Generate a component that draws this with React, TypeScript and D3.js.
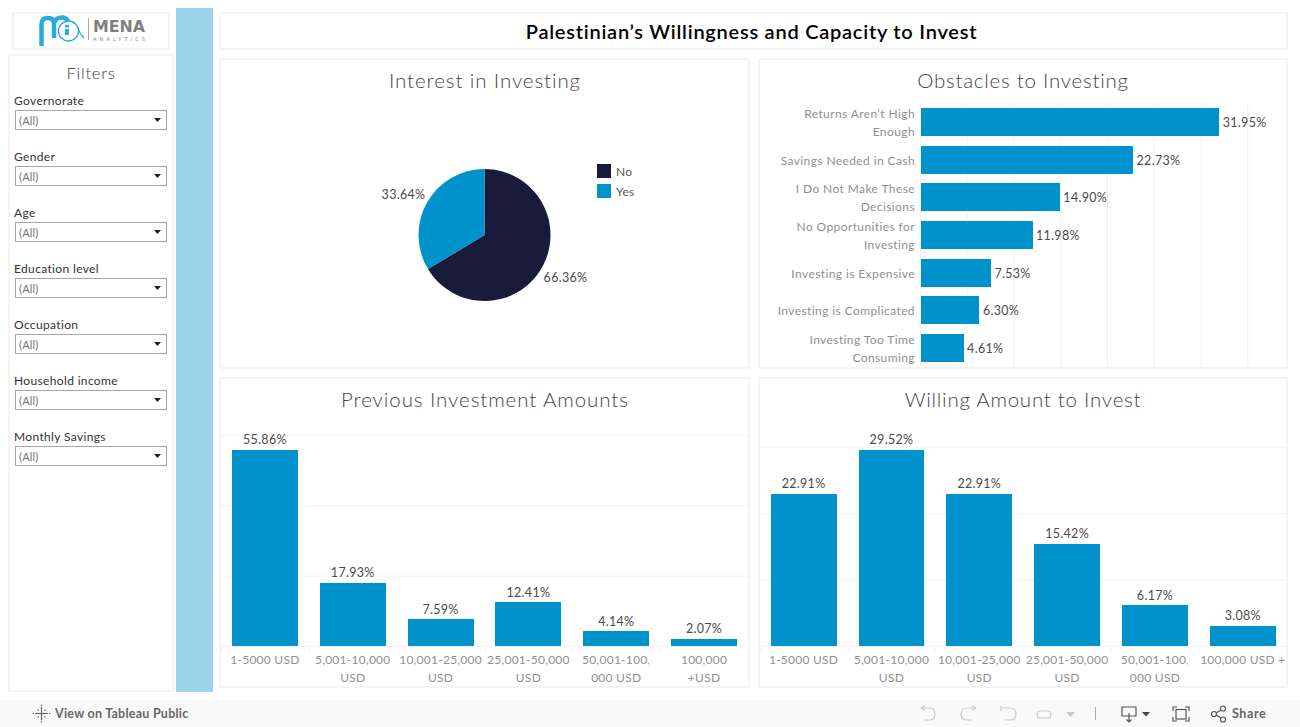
import React from "react";
import * as d3 from "d3";

const filterNames = ["Governorate", "Gender", "Age", "Education level", "Occupation", "Household income", "Monthly Savings"];
const pieLabels = ["No", "Yes"];
const pieValues = [66.36, 33.64];
const obstacleLabels = [
  ["Returns Aren\u2019t High", "Enough"],
  ["Savings Needed in Cash"],
  ["I Do Not Make These", "Decisions"],
  ["No Opportunities for", "Investing"],
  ["Investing is Expensive"],
  ["Investing is Complicated"],
  ["Investing Too Time", "Consuming"],
];
const obstacleValues = [31.95, 22.73, 14.9, 11.98, 7.53, 6.3, 4.61];
const obstacleTicks = [0, 5, 10, 15, 20, 25, 30, 35];
const previousLabels = [
  ["1-5000 USD"],
  ["5,001-10,000", "USD"],
  ["10,001-25,000", "USD"],
  ["25,001-50,000", "USD"],
  ["50,001-100,", "000 USD"],
  ["100,000", "+USD"],
];
const previousValues = [55.86, 17.93, 7.59, 12.41, 4.14, 2.07];
const previousTicks = [0, 20, 40, 60];
const willingLabels = [
  ["1-5000 USD"],
  ["5,001-10,000", "USD"],
  ["10,001-25,000", "USD"],
  ["25,001-50,000", "USD"],
  ["50,001-100,", "000 USD"],
  ["100,000 USD +"],
];
const willingValues = [22.91, 29.52, 22.91, 15.42, 6.17, 3.08];
const willingTicks = [0, 10, 20, 30];

const BLUE = "#0092cb";
const NAVY = "#181c3a";
const FONT = "Lato, 'Open Sans', sans-serif";
const BORDER = "#f4f4f4";
const AXIS = "#8f8f8f";
const pct = (v: number) => v.toFixed(2) + "%";

function Panel({ x, y, w, h }: { x: number; y: number; w: number; h: number }) {
  return <rect x={x} y={y} width={w} height={h} fill="#fff" stroke={BORDER} strokeWidth={2} />;
}

function Title({ x, y, text, spacing }: { x: number; y: number; text: string; spacing: number }) {
  return (
    <text x={x} y={y} textAnchor="middle" fontFamily={FONT} fontSize={20.5} fill="#454545" letterSpacing={spacing} fontWeight={300}>
      {text}
    </text>
  );
}

function ColumnChart({ id, left, labels, values, ticks, max, top, right }: {
  id: string; left: number; labels: string[][]; values: number[]; ticks: number[]; max: number; top: number; right: number;
}) {
  const baseline = 646;
  const x = d3.scaleBand<number>().domain(values.map((_, i) => i)).range([left, right]).paddingInner(0.25).paddingOuter(0.125);
  const y = d3.scaleLinear().domain([0, max]).range([baseline, top]);
  return (
    <g fontFamily={FONT}>
      {ticks.map((t) => (
        <line key={t} x1={left} x2={right} y1={y(t) + 0.5} y2={y(t) + 0.5} stroke="#f1f1f1" strokeWidth={1} />
      ))}
      {values.map((_, i) => (
        <line key={i} x1={Math.round(left + x.step() * i) + 0.5} x2={Math.round(left + x.step() * i) + 0.5} y1={baseline} y2={baseline + 5} stroke="#f1f1f1" />
      ))}
      {values.map((v, i) => {
        const cut = labels[i][0].endsWith(",");
        return (
          <g key={i}>
            <rect x={x(i)} y={y(v)} width={x.bandwidth()} height={baseline - y(v)} fill={BLUE} shapeRendering="crispEdges" />
            <text x={x(i)! + x.bandwidth() / 2} y={y(v) - 5.5} textAnchor="middle" fontSize={12.5} fill="#4a4a4a" letterSpacing={0.3}>{pct(v)}</text>
            <clipPath id={`${id}-${i}`}>
              <rect x={left + x.step() * i} y={650} width={cut ? x(i)! + x.bandwidth() - (left + x.step() * i) : x.step()} height={18} />
              <rect x={left + x.step() * i} y={668} width={x.step()} height={18} />
            </clipPath>
            <g clipPath={`url(#${id}-${i})`}>
              {labels[i].map((line, j) => (
                <text key={j} x={x(i)! + x.bandwidth() / 2} y={664 + j * 18} textAnchor="middle" fontSize={12} fill={AXIS} letterSpacing={0.25}>{line}</text>
              ))}
            </g>
          </g>
        );
      })}
    </g>
  );
}

function Obstacles() {
  const x = d3.scaleLinear().domain([0, 35]).range([920.5, 1247.8]);
  const y = d3.scaleBand<number>().domain(obstacleValues.map((_, i) => i)).range([103.3, 367]).paddingInner(0.257).paddingOuter(0.1285);
  return (
    <g fontFamily={FONT}>
      {obstacleTicks.map((t) => (
        <line key={t} x1={x(t)} x2={x(t)} y1={104} y2={367} stroke="#f1f1f1" />
      ))}
      {obstacleValues.map((v, i) => {
        const cy = y(i)! + y.bandwidth() / 2;
        const lines = obstacleLabels[i];
        return (
          <g key={i}>
            <rect x={x(0)} y={y(i)} width={x(v) - x(0)} height={y.bandwidth()} fill={BLUE} shapeRendering="crispEdges" />
            <text x={x(v) + 3.5} y={cy + 5} fontSize={12.5} fill="#4a4a4a" letterSpacing={0.3}>{pct(v)}</text>
            {lines.map((line, j) => (
              <text key={j} x={915} y={cy + 5 + (j - (lines.length - 1) / 2) * 18} textAnchor="end" fontSize={12} fill={AXIS} letterSpacing={0.4}>{line}</text>
            ))}
          </g>
        );
      })}
    </g>
  );
}

function Pie() {
  const pie = d3.pie<number>().sort(null)(pieValues);
  const arc = d3.arc<d3.PieArcDatum<number>>().innerRadius(0).outerRadius(66);
  return (
    <g fontFamily={FONT}>
      <g transform="translate(484.5,235)">
        {pie.map((p, i) => (
          <path key={i} d={arc(p)!} fill={i === 0 ? NAVY : BLUE} />
        ))}
      </g>
      <text x={565.5} y={282} textAnchor="middle" fontSize={12.5} fill="#4a4a4a" letterSpacing={0.3}>{pct(pieValues[0])}</text>
      <text x={403.5} y={199} textAnchor="middle" fontSize={12.5} fill="#4a4a4a" letterSpacing={0.3}>{pct(pieValues[1])}</text>
      {pieLabels.map((l, i) => (
        <g key={l}>
          <rect x={597} y={164 + i * 20} width={14} height={14} fill={i === 0 ? NAVY : BLUE} />
          <text x={616} y={176 + i * 20} fontSize={12} fill="#5a5a5a" letterSpacing={0.3}>{l}</text>
        </g>
      ))}
    </g>
  );
}

function Filters() {
  return (
    <g fontFamily={FONT}>
      <text x={91} y={79} textAnchor="middle" fontSize={16.5} fill="#3a3a3a" letterSpacing={0.8} fontWeight={300}>Filters</text>
      {filterNames.map((f, i) => (
        <g key={f} transform={`translate(0,${i * 56})`}>
          <text x={14} y={105} fontSize={12} fill="#333" letterSpacing={0.35}>{f}</text>
          <rect x={15.5} y={110.5} width={151} height={19} fill="#fff" stroke="#a6a6a6" />
          <text x={19} y={124.5} fontSize={11} fill="#707070" letterSpacing={0.2}>(All)</text>
          <path d="M154,118 h7 l-3.5,4 z" fill="#222" />
        </g>
      ))}
    </g>
  );
}

function Logo() {
  return (
    <g>
      <path d="M41.5,46 V24 Q41.5,18 48,18 Q54,18 54,24 V38 M54,23 Q56,17.5 62,17.5 Q66,17.5 68,21" fill="none" stroke="#29abe2" strokeWidth={4.5} />
      <circle cx={68.5} cy={31} r={10} fill="none" stroke="#29abe2" strokeWidth={1.3} />
      <path d="M78,27 Q79,33 84,38" fill="none" stroke="#29abe2" strokeWidth={1.3} />
      <rect x={65} y={29} width={4} height={6} fill="#29abe2" />
      <rect x={65} y={25} width={4} height={2.5} fill="#29abe2" />
      <line x1={88.5} y1={18} x2={88.5} y2={40} stroke="#aaa" />
      <text x={93} y={32} fontFamily="'DejaVu Sans', sans-serif" fontSize={16} fontWeight={700} fill="#808080" textLength={52} lengthAdjust="spacingAndGlyphs">MENA</text>
      <text x={93} y={40.5} fontFamily="'DejaVu Sans', sans-serif" fontSize={5} fill="#808080" textLength={52}>ANALYTICS</text>
    </g>
  );
}

function Footer() {
  const gray = "#c9c9c9";
  return (
    <g>
      <rect x={0} y={700} width={1300} height={27} fill="#f9f9f9" />
      <g stroke="#666" strokeWidth={1.2} fill="none">
        {d3.range(0, 8).map((i) => {
          const a = (i * Math.PI) / 4;
          const r1 = i % 2 ? 4 : 5;
          const r2 = i % 2 ? 6 : 9;
          return <line key={i} x1={41.5 + r1 * Math.cos(a)} y1={713.5 + r1 * Math.sin(a)} x2={41.5 + r2 * Math.cos(a)} y2={713.5 + r2 * Math.sin(a)} strokeDasharray="1.5 1" />;
        })}
        <line x1={36} x2={47} y1={713.5} y2={713.5} />
        <line x1={41.5} x2={41.5} y1={708} y2={719} />
      </g>
      <text x={55} y={718} fontFamily={FONT} fontSize={12.5} fontWeight={700} fill="#666" letterSpacing={0.25}>View on Tableau Public</text>
      <g fill="none" stroke={gray} strokeWidth={1.2}>
        <path d="M921,708 H930 Q935,708 935,714 Q935,720 930,720 H924" />
        <path d="M921,708 l4,-2 M921,708 l4,2" />
        <path d="M976,708 H967 Q961,708 961,714 Q961,720 967,720 H972" />
        <path d="M976,708 l-4,-2 M976,708 l-4,2" />
        <path d="M1001,706 v5 M1002,708 H1010 Q1016,708 1016,714 Q1016,720 1010,720 H1005" />
        <path d="M1040,711 H1048 Q1051,711 1051,714.5 Q1051,718 1048,718 H1040 Q1037,718 1037,714.5 Q1037,711 1040,711 Z" />
      </g>
      <path d="M1066,712 h9 l-4.5,5 z" fill={gray} />
      <line x1={1095.5} x2={1095.5} y1={707} y2={720} stroke="#aaa" />
      <g fill="none" stroke="#555" strokeWidth={1.2}>
        <path d="M1122,707 H1136 V716 H1122 Z M1129,713 V722 M1126.5,719.5 L1129,722 L1131.5,719.5" />
        <path d="M1173,711 v-4 h4 M1185,707 h4 v4 M1189,717 v4 h-4 M1177,721 h-4 v-4" />
        <rect x={1176} y={709.5} width={10} height={9.5} />
        <circle cx={1214} cy={714} r={2.5} />
        <circle cx={1223} cy={708.5} r={2.5} />
        <circle cx={1223} cy={719.5} r={2.5} />
        <path d="M1216,713 L1221,710 M1216,715 L1221,718" />
      </g>
      <path d="M1142,712 h8 l-4,4.5 z" fill="#444" />
      <text x={1232} y={718} fontFamily={FONT} fontSize={12.5} fontWeight={700} fill="#666" letterSpacing={0.6}>Share</text>
    </g>
  );
}

export default function App() {
  return (
    <svg width={1300} height={727} style={{ position: "fixed", left: 0, top: 0, background: "#fff" }}>
      <Panel x={13} y={13} w={156} h={36} />
      <Logo />
      <Panel x={9} y={55} w={164} h={636} />
      <Filters />
      <rect x={176} y={8} width={37} height={684} fill="#9ad3ea" />
      <Panel x={220} y={13} w={1067} h={36} />
      <text x={751.5} y={39} textAnchor="middle" fontFamily={FONT} fontSize={20} fontWeight={600} fill="#000" letterSpacing={0.75}>Palestinian{"\u2019"}s Willingness and Capacity to Invest</text>
      <Panel x={220} y={59} w={529} h={309} />
      <Panel x={759} y={59} w={528} h={309} />
      <Panel x={220} y={378} w={529} h={309} />
      <Panel x={759} y={378} w={528} h={309} />
      <Title x={485} y={88} text="Interest in Investing" spacing={0.9} />
      <Title x={1023} y={88} text="Obstacles to Investing" spacing={0.75} />
      <Title x={485} y={407} text="Previous Investment Amounts" spacing={0.92} />
      <Title x={1023} y={407} text="Willing Amount to Invest" spacing={0.75} />
      <Pie />
      <Obstacles />
      <ColumnChart id="prev" left={221} right={748} labels={previousLabels} values={previousValues} ticks={previousTicks} max={60} top={435} />
      <ColumnChart id="will" left={759.7} right={1286.7} labels={willingLabels} values={willingValues} ticks={willingTicks} max={30} top={446.7} />
      <Footer />
    </svg>
  );
}
